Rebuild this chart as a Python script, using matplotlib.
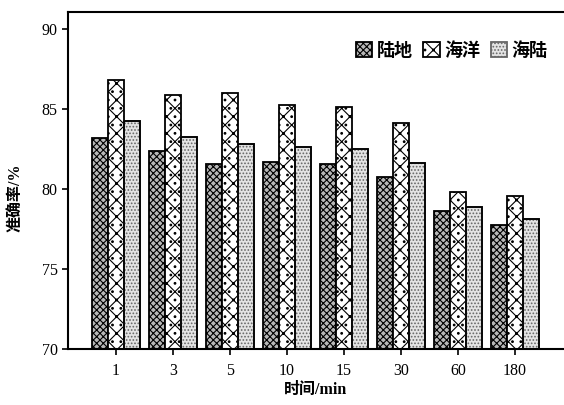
import numpy as np
import matplotlib.pyplot as plt

plt.rcParams['font.family'] = ['Liberation Serif', 'Noto Sans CJK SC']
plt.rcParams['hatch.linewidth'] = 0.8

# data
times = ['1', '3', '5', '10', '15', '30', '60', '180']
land = [83.2, 82.4, 81.55, 81.7, 81.55, 80.75, 78.65, 77.75]
ocean = [86.8, 85.9, 86.0, 85.25, 85.1, 84.15, 79.8, 79.55]
sealand = [84.25, 83.25, 82.8, 82.65, 82.5, 81.65, 78.9, 78.15]
series_names = ['陆地', '海洋', '海陆']

x = np.arange(len(times))
w = 0.28

fig = plt.figure(figsize=(5.64, 4.05), dpi=100)
ax = fig.add_axes([0.1206, 0.1383, 0.8794, 0.8321])

ax.bar(x - w, land, w, color='#b8b8b8', edgecolor='black',
       hatch='xxxxx', linewidth=1.3, label=series_names[0])
ax.bar(x, ocean, w, color='white', edgecolor='black',
       hatch='xx..', linewidth=1.3, label=series_names[1])
ax.bar(x + w, sealand, w, color='#e4e4e4', edgecolor='#666666',
       hatch='.....', linewidth=1.3, label=series_names[2])
# redraw edges of the light bars in black
ax.bar(x + w, sealand, w, fill=False, edgecolor='black', linewidth=1.3)

ax.set_ylim(70, 91.06)
ax.set_xlim(-0.84, 7.86)
ax.set_yticks([70, 75, 80, 85, 90])
ax.set_xticks(x)
ax.set_xticklabels(times)
ax.tick_params(axis='both', labelsize=11.5, width=1.2, length=4, direction='out')
ax.tick_params(axis='x', pad=6)
for s in ['left', 'bottom', 'top']:
    ax.spines[s].set_linewidth(1.5)
ax.spines['right'].set_visible(False)

ax.set_xlabel('时间/min', fontsize=11.5, fontweight='bold', labelpad=2)
ax.set_ylabel('准确率/%', fontsize=11.5, fontweight='bold')
ax.yaxis.set_label_coords(-0.09, 0.45)

ax.legend(loc='upper right', bbox_to_anchor=(1.0, 0.96), ncol=3,
          frameon=False, handlelength=0.9, handleheight=0.9,
          handletextpad=0.25, columnspacing=0.6,
          prop={'weight': 'bold', 'size': 13})

fig.savefig('out.png', dpi=100)
